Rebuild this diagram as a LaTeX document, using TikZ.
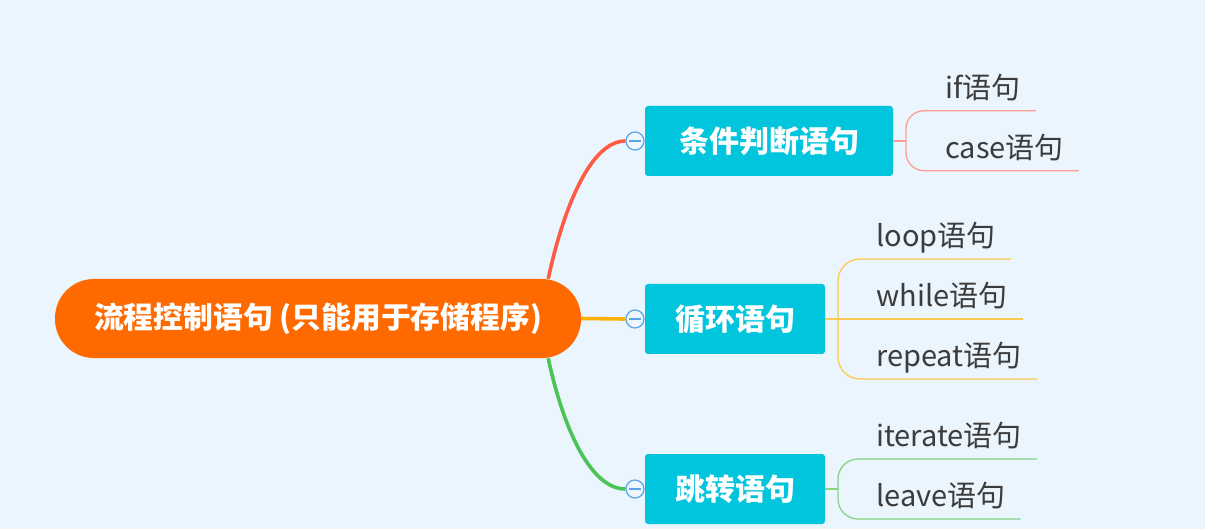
\documentclass[tikz,border=0pt]{standalone}
\usepackage{fontspec}
\setmainfont{Noto Sans CJK SC}
\definecolor{bgc}{HTML}{EAF5FD}
\definecolor{rootc}{HTML}{FF6A00}
\definecolor{branchc}{HTML}{00C5DD}
\definecolor{redc}{HTML}{FF5A45}
\definecolor{orangec}{HTML}{FFB300}
\definecolor{greenc}{HTML}{4CC357}
\definecolor{pinkl}{HTML}{FF9C94}
\definecolor{yellowl}{HTML}{FFC850}
\definecolor{greenl}{HTML}{86D486}
\definecolor{togc}{HTML}{5AA5E8}
\definecolor{togfill}{HTML}{EEF6FF}
\definecolor{leaftext}{HTML}{3C3C3C}
\tikzset{
  rootbox/.style={fill=rootc, rounded corners=39pt, minimum width=526pt, minimum height=79pt, inner sep=0pt,
    text=white, font=\fontsize{29.8}{36}\selectfont\bfseries},
  branchbox/.style={fill=branchc, rounded corners=3pt, minimum height=70pt, inner sep=0pt,
    text=white, font=\fontsize{30}{36}\selectfont\bfseries},
  tog/.style={circle, draw=togc, fill=togfill, line width=1.2pt, minimum size=18pt, inner sep=0pt},
  togline/.style={draw=togc, line width=1.6pt},
  mainline/.style={line width=3.6pt},
  leafline/.style={line width=1.3pt},
  leaf/.style={anchor=south west, inner xsep=0pt, inner ysep=12pt, text depth=0pt, text=leaftext,
    font=\fontsize{29}{34}\selectfont},
}
\begin{document}
\begin{tikzpicture}[x=1pt,y=-1pt]
\fill[bgc] (0,0) rectangle (1205,529);
\useasboundingbox (0,0) rectangle (1205,529);

% root
\node[rootbox] (root) at (318,318.5) {流程控制语句 (只能用于存储程序)};

% branches
\node[branchbox, minimum width=248pt] (b1) at (769,141) {条件判断语句};
\node[branchbox, minimum width=180pt] (b2) at (735,319) {循环语句};
\node[branchbox, minimum width=180pt] (b3) at (735,489) {跳转语句};

% toggles
\node[tog] (t1) at (635,141) {};
\node[tog] (t2) at (635,319) {};
\node[tog] (t3) at (635,489) {};
\foreach \t in {t1,t2,t3}{
  \draw[togline] ([xshift=-6pt]\t.center) -- ([xshift=6pt]\t.center);
}

% main connectors
\draw[mainline, draw=redc] ([xshift=-33pt]root.north east) .. controls +(15,-70) and +(-35,0) .. (t1.west);
\draw[mainline, draw=orangec] (root.east) -- (t2.west);
\draw[mainline, draw=greenc] ([xshift=-33pt]root.south east) .. controls +(15,70) and +(-35,0) .. (t3.west);

% leaves of branch 1
\node[leaf] (if) at (945,110.7) {if语句};
\node[leaf] (case) at (945,170.7) {case语句};
\coordinate (k1) at (906,141);
\draw[leafline, draw=pinkl] (b1.east) -- (k1);
\draw[leafline, draw=pinkl, rounded corners=18pt] (k1) |- ([xshift=15pt]if.south east);
\draw[leafline, draw=pinkl, rounded corners=18pt] (k1) |- ([xshift=15pt]case.south east);

% leaves of branch 2
\node[leaf] (loop) at (876,259) {loop语句};
\node[leaf] (while) at (876,319) {while语句};
\node[leaf] (repeat) at (876,379) {repeat语句};
\coordinate (k2) at (838,319);
\draw[leafline, draw=yellowl] (b2.east) -- ([xshift=15pt]while.south east);
\draw[leafline, draw=yellowl, rounded corners=22pt] (k2) |- ([xshift=15pt]loop.south east);
\draw[leafline, draw=yellowl, rounded corners=22pt] (k2) |- ([xshift=15pt]repeat.south east);

% leaves of branch 3
\node[leaf] (iterate) at (876,459) {iterate语句};
\node[leaf] (leave) at (876,519) {leave语句};
\coordinate (k3) at (838,489);
\draw[leafline, draw=greenl] (b3.east) -- (k3);
\draw[leafline, draw=greenl, rounded corners=20pt] (k3) |- ([xshift=15pt]iterate.south east);
\draw[leafline, draw=greenl, rounded corners=20pt] (k3) |- ([xshift=15pt]leave.south east);
\end{tikzpicture}
\end{document}
